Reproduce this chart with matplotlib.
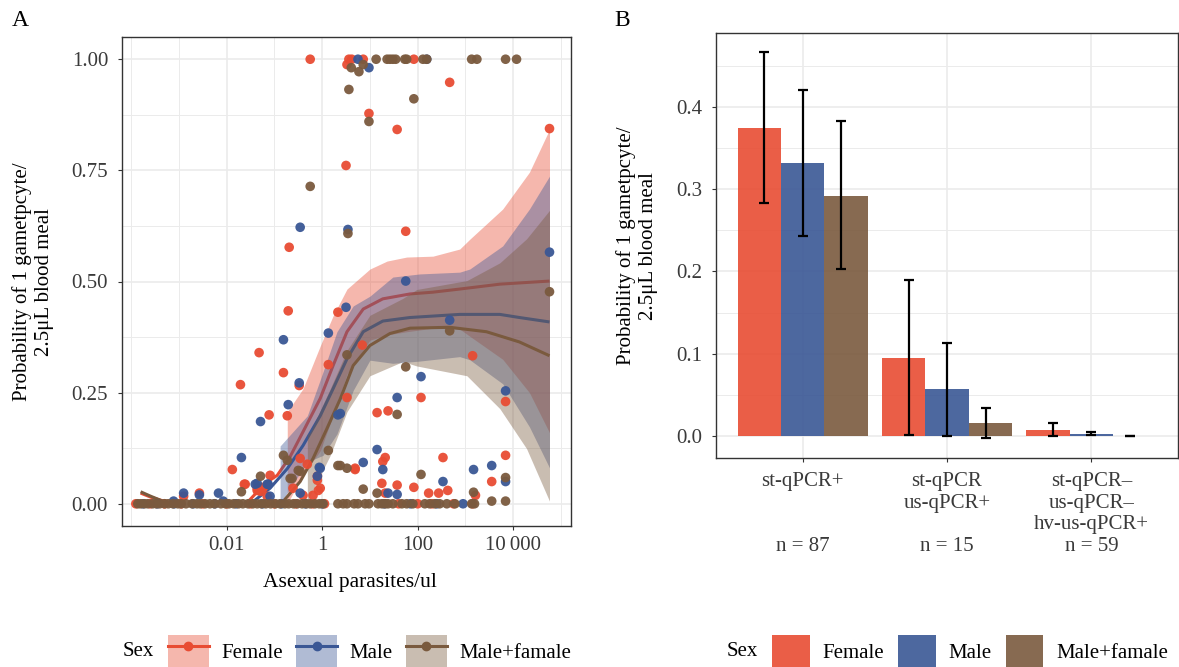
import numpy as np
import matplotlib
matplotlib.use("Agg")
import matplotlib.pyplot as plt
from matplotlib.patches import Patch
from matplotlib.lines import Line2D

plt.rcParams['font.family'] = ['Liberation Serif', 'DejaVu Serif']
nan = float('nan')

# ---------------- Panel A data (log10 asexual parasites/ul, probability) ----------------
female_lx = [-0.25, 0.56, 0.62, 0.86, 0.52, 1.92, 2.67, 0.98, 1.57, 4.76, 0.50, 1.75, -0.69, -0.71, 0.33,
             -1.32, 0.84, -0.81, 0.13, 3.15, 0.52, 2.07, 1.15, 1.38, 3.84, 1.32, 1.27, 0.69, 2.53, 3.55,
             3.84, 1.25, 1.57, 1.92, 1.32, 2.23, 2.44, 2.63, 3.21, -1.71, -0.48, -1.11, -0.73, -1.88, -0.46,
             -0.31, -1.09, -1.63, -0.10, -0.08, -2.90, -2.57, -1.36, -1.23, -1.29, -0.61, -0.40, -0.19, -1.61,
             -1.36, -1.25, -1.15, -0.04, -0.10, 0.69,
             -3.90, -3.60, -3.30, -2.95, -2.50, -2.00, -1.50, -1.00, -0.55, -0.20, 0.05, 1.60, 2.00, 2.30, 2.75, 3.15]
female_y = [1.0, 1.0, 1.0, 1.0, 0.988, 1.0, 0.948, 0.878, 0.842, 0.844, 0.761, 0.613, 0.577, 0.434, 0.431,
            0.340, 0.357, 0.295, 0.313, 0.333, 0.239, 0.239, 0.205, 0.209, 0.230, 0.104, 0.095, 0.077, 0.104, 0.050,
            0.109, 0.046, 0.042, 0.037, 0.024, 0.024, 0.024, 0.030, 0.019, 0.268, 0.266, 0.200, 0.198, 0.077, 0.102,
            0.089, 0.064, 0.044, 0.062, 0.030, 0.017, 0.024, 0.030, 0.037, 0.028, 0.035, 0.019, 0.019, 0.044,
            0.035, 0.035, 0.017, 0.035, 0.053, 0.080,
            0, 0, 0, 0, 0, 0, 0, 0, 0, 0, 0, 0, 0, 0, 0, 0]

male_lx = [0.75, 0.98, 2.19, -0.46, 0.54, 1.75, 0.50, 0.13, -0.81, 2.67, 2.07, 4.76, 3.84, 0.38, 1.57,
           1.15, 1.27, 0.86, 3.17, 3.55, 3.84, 2.53, 1.38, 1.57, -0.48, -1.29, -0.71, 0.33, -1.69, -0.06,
           -1.40, -1.15, -2.17, -2.90, -2.57, -0.46, -2.07, -3.11, -1.36, -1.09, -0.10, -0.04, -1.13,
           -3.75, -3.45, -3.10, -2.70, -2.25, -1.80, -1.25, -0.85, -0.35, 0.00, 1.30, 1.85, 2.40, 2.95]
male_y = [1.0, 0.981, 1.0, 0.622, 0.617, 0.501, 0.442, 0.384, 0.369, 0.413, 0.286, 0.566, 0.254, 0.203, 0.239,
          0.122, 0.077, 0.093, 0.077, 0.086, 0.050, 0.050, 0.024, 0.021, 0.272, 0.185, 0.223, 0.200, 0.104, 0.082,
          0.044, 0.044, 0.024, 0.024, 0.020, 0.024, 0.006, 0.006, 0.046, 0.017, 0.062, 0.080, 0.044,
          0, 0, 0, 0, 0, 0, 0, 0, 0, 0, 0, 0, 0, 0]

both_lx = [0.61, 0.77, 0.86, 1.13, 1.36, 1.42, 1.48, 1.54, 1.73, 1.77, 2.11, 2.19, 3.13, 3.24, 3.84, 4.07,
           0.56, 1.92, 0.98, -0.25, 0.54, 0.52, 1.75, 2.67, 4.76, 1.57, 0.38, 0.52, 0.86, 3.84, 2.07, 1.15,
           3.17, 3.55, 3.84, -0.81, -0.73, 0.13, 0.33, -1.29, -0.46, -0.67, -1.69, -0.63, -0.50,
           -3.86, -3.80, -3.72, -3.65, -3.55, -3.47, -3.40, -3.30, -3.22, -3.12, -3.02, -2.95, -2.85, -2.72,
           -2.62, -2.55, -2.45, -2.35, -2.25, -2.12, -2.02, -1.95, -1.85, -1.75, -1.66, -1.55, -1.45, -1.36,
           -1.27, -1.18, -1.08, -0.98, -0.88, -0.78, -0.70, -0.60, -0.52, -0.42, -0.33, -0.25, -0.15, -0.06,
           0.02, 0.33, 0.44, 0.52, 0.67, 0.75, 0.90, 0.98, 1.17, 1.25, 1.32, 1.38, 1.48, 1.67, 1.77, 1.90,
           2.15, 2.25, 2.36, 2.46, 2.61, 2.78, 3.13, 3.19]
both_y = [0.981, 0.972, 0.988, 1.0, 1.0, 1.0, 1.0, 1.0, 1.0, 1.0, 1.0, 1.0, 1.0, 1.0, 1.0, 1.0,
          0.932, 0.911, 0.860, 0.714, 0.608, 0.335, 0.308, 0.389, 0.477, 0.201, 0.086, 0.080, 0.033, 0.059, 0.066, 0.024,
          0.026, 0.006, 0.006, 0.109, 0.098, 0.120, 0.086, 0.062, 0.073, 0.057, 0.027, 0.057, 0.075,
          0, 0, 0, 0, 0, 0, 0, 0, 0, 0, 0, 0, 0, 0,
          0, 0, 0, 0, 0, 0, 0, 0, 0, 0, 0, 0, 0, 0,
          0, 0, 0, 0, 0, 0, 0, 0, 0, 0, 0, 0, 0, 0,
          0, 0, 0, 0, 0, 0, 0, 0, 0, 0, 0, 0, 0, 0, 0, 0,
          0, 0, 0, 0, 0, 0, 0, 0]

# smoothed fits
female_fit_lx = [-3.80, -3.59, -3.32, -3.07, nan, -1.61, -1.54, -1.19, -0.94, -0.67, -0.40, -0.04, 0.23, 0.52,
                 0.86, 1.27, 1.84, 2.32, 2.88, 3.72, 4.76]
female_fit_y = [0.024, 0.015, 0.006, 0.0, nan, 0.0, 0.006, 0.046, 0.064, 0.106, 0.162, 0.237, 0.311, 0.387,
                0.438, 0.461, 0.472, 0.476, 0.483, 0.494, 0.501]
female_band_lx = [-0.73, -0.40, -0.04, 0.23, 0.52, 1.00, 1.36, 1.77, 2.32, 2.88, 3.09, 3.78, 4.34, 4.76]
female_band_hi = [0.207, 0.259, 0.355, 0.423, 0.483, 0.528, 0.546, 0.555, 0.557, 0.573, 0.595, 0.663, 0.746, 0.842]
female_band_lo = [0.0, 0.065, 0.119, 0.199, 0.291, 0.368, 0.380, 0.387, 0.395, 0.393, 0.377, 0.325, 0.250, 0.160]

male_fit_lx = [-1.50, -1.09, -0.73, -0.40, -0.04, 0.23, 0.52, 0.86, 1.27, 1.84, 2.88, 3.72, 4.13, 4.76]
male_fit_y = [0.0, 0.035, 0.079, 0.131, 0.198, 0.259, 0.326, 0.387, 0.411, 0.419, 0.426, 0.426, 0.419, 0.409]
male_band_lx = [-0.88, -0.31, 0.02, 0.31, 0.65, 1.00, 1.48, 2.04, 2.88, 3.09, 3.78, 4.34, 4.76]
male_band_hi = [0.13, 0.198, 0.297, 0.387, 0.445, 0.467, 0.510, 0.517, 0.521, 0.528, 0.580, 0.663, 0.737]
male_band_lo = [0.0, 0.094, 0.109, 0.157, 0.255, 0.323, 0.316, 0.321, 0.331, 0.324, 0.270, 0.173, 0.081]

both_fit_lx = [-3.80, -3.59, -3.34, -3.13, nan, -1.04, -0.81, -0.46, -0.19, 0.10, 0.38, 0.65, 1.00, 1.42,
               1.84, 2.67, 3.44, 4.13, 4.76]
both_fit_y = [0.027, 0.017, 0.006, 0.0, nan, 0.0, 0.006, 0.05, 0.102, 0.169, 0.236, 0.311, 0.356, 0.383,
              0.395, 0.397, 0.387, 0.364, 0.333]
both_band_lx = [-0.31, -0.25, 0.17, 0.52, 1.00, 1.69, 1.98, 3.03, 3.72, 4.28, 4.76]
both_band_hi = [0.156, 0.161, 0.259, 0.345, 0.424, 0.462, 0.482, 0.502, 0.542, 0.596, 0.660]
both_band_lo = [0.0, 0.019, 0.109, 0.207, 0.288, 0.320, 0.310, 0.288, 0.214, 0.124, 0.006]

# ---------------- Panel B data ----------------
groups = ["st-qPCR+\n\n\nn = 87", "st-qPCR\nus-qPCR+\n\nn = 15", "st-qPCR\u2013\nus-qPCR\u2013\nhv-us-qPCR+\nn = 59"]
female_p = [0.374, 0.095, 0.0072]
female_lo = [0.283, 0.001, 0.0]
female_hi = [0.466, 0.190, 0.0155]
male_p = [0.332, 0.057, 0.0026]
male_lo = [0.243, 0.0, 0.001]
male_hi = [0.420, 0.113, 0.005]
both_p = [0.292, 0.0155, 0.0]
both_lo = [0.203, -0.0026, 0.0]
both_hi = [0.383, 0.0345, 0.0]

sex_labels = ["Female", "Male", "Male+famale"]
cols = ["#E84C33", "#3A5795", "#7A5A3E"]

W, H = 1179, 667
fig = plt.figure(figsize=(W / 100, H / 100), dpi=100)
FS = 15
tick_col = "#3a3a3a"
grid_col = "#EBEBEB"

def style(ax):
    for s in ax.spines.values():
        s.set_color("#333333")
        s.set_linewidth(1.0)
    ax.tick_params(which='major', length=3, width=0.8, color="#333333", labelsize=FS, labelcolor=tick_col, pad=4)
    ax.tick_params(axis='y', pad=7)
    ax.tick_params(which='minor', length=0)
    ax.grid(which='major', color=grid_col, lw=1.2)
    ax.grid(which='minor', color=grid_col, lw=0.7)
    ax.set_axisbelow(True)

# ---------- Panel A ----------
axA = fig.add_axes([122 / W, 1 - 526 / H, 449 / W, 489 / H])
axA.set_xscale('log')
axA.set_xlim(10 ** -4.19, 10 ** 5.21)
axA.set_ylim(-0.05, 1.05)
style(axA)

series = [
    (female_lx, female_y, female_fit_lx, female_fit_y, female_band_lx, female_band_lo, female_band_hi),
    (male_lx, male_y, male_fit_lx, male_fit_y, male_band_lx, male_band_lo, male_band_hi),
    (both_lx, both_y, both_fit_lx, both_fit_y, both_band_lx, both_band_lo, both_band_hi),
]
z = 2
for i, (plx, py, flx, fy, blx, blo, bhi) in enumerate(series):
    axA.fill_between(10 ** np.array(blx), blo, bhi, color=cols[i], alpha=0.4, lw=0, zorder=z)
    axA.plot(10 ** np.array(flx), fy, color=cols[i], lw=2.2, zorder=z + 1, solid_capstyle='butt')
    z += 2
for i, (plx, py, *_rest) in enumerate(series):
    axA.scatter(10 ** np.array(plx), py, s=48, color=cols[i], edgecolors='none', alpha=0.95, zorder=20 + i)

axA.set_xticks([1e-2, 1, 1e2, 1e4])
axA.set_xticklabels(["0.01", "1", "100", "10\u2009000"])
axA.set_xticks([1e-4, 1e-3, 1e-1, 1e1, 1e3, 1e5], minor=True)
axA.set_xticklabels([], minor=True)
axA.set_yticks([0, 0.25, 0.5, 0.75, 1.0])
axA.set_yticklabels(["0.00", "0.25", "0.50", "0.75", "1.00"])
axA.set_yticks([0.125, 0.375, 0.625, 0.875], minor=True)

# ---------- Panel B ----------
axB = fig.add_axes([716 / W, 1 - 458 / H, 462 / W, 425 / H])
axB.set_xlim(0.4, 3.6)
axB.set_ylim(-0.0265, 0.4895)
style(axB)
xg = np.arange(1, len(groups) + 1)
bw = 0.3
for i, (vals, lo, hi) in enumerate([(female_p, female_lo, female_hi), (male_p, male_lo, male_hi), (both_p, both_lo, both_hi)]):
    off = (i - 1) * bw
    axB.bar(xg + off, vals, width=bw, color=cols[i], alpha=0.9, lw=0, zorder=2)
for i, (vals, lo, hi) in enumerate([(female_p, female_lo, female_hi), (male_p, male_lo, male_hi), (both_p, both_lo, both_hi)]):
    off = (i - 1) * 0.8 / 3
    v = np.array(vals)
    axB.errorbar(xg + off, v, yerr=[v - np.array(lo), np.array(hi) - v], fmt='none', ecolor='black',
                 elinewidth=1.6, capsize=3.5, capthick=1.6, zorder=3)
axB.set_xticks(xg)
axB.set_xticklabels(groups, linespacing=1.2, va='top')
axB.tick_params(axis='x', pad=7)
axB.set_yticks([0, 0.1, 0.2, 0.3, 0.4])
axB.set_yticklabels(["0.0", "0.1", "0.2", "0.3", "0.4"])
axB.set_yticks([0.05, 0.15, 0.25, 0.35, 0.45], minor=True)

# ---------- titles / labels ----------
ylab = "Probability of 1 gametpcyte/\n2.5\u03bcL blood meal"
fig.text(33 / W, 1 - 282 / H, ylab, rotation=90, ha='center', va='center', fontsize=FS, linespacing=1.2)
fig.text(637 / W, 1 - 246 / H, ylab, rotation=90, ha='center', va='center', fontsize=FS, linespacing=1.2)
fig.text(350 / W, 1 - 583 / H, "Asexual parasites/ul", ha='center', va='center', fontsize=FS + 0.5)
fig.text(12 / W, 1 - 20 / H, "A", ha='left', va='center', fontsize=17)
fig.text(614 / W, 1 - 20 / H, "B", ha='left', va='center', fontsize=17)

# ---------- legends ----------
fig.text(123 / W, 1 - 651 / H, "Sex", ha='left', va='center', fontsize=FS)
hA = [(Patch(facecolor=c, alpha=0.4, edgecolor='none'),
       Line2D([], [], color=c, lw=2.2, marker='o', ms=6)) for c in cols]
fig.legend(hA, sex_labels, loc='center left', bbox_to_anchor=(168 / W, 1 - 651 / H), ncol=3, frameon=False,
           handlelength=1.95, handleheight=1.95, handletextpad=0.6, columnspacing=0.65, borderpad=0,
           borderaxespad=0, fontsize=FS)

fig.text(727 / W, 1 - 651 / H, "Sex", ha='left', va='center', fontsize=FS)
hB = [Patch(facecolor=c, alpha=0.9, edgecolor='none') for c in cols]
fig.legend(hB, sex_labels, loc='center left', bbox_to_anchor=(772 / W, 1 - 651 / H), ncol=3, frameon=False,
           handlelength=1.8, handleheight=1.95, handletextpad=0.6, columnspacing=0.7, borderpad=0,
           borderaxespad=0, fontsize=FS)

fig.savefig("out.png", dpi=100)
